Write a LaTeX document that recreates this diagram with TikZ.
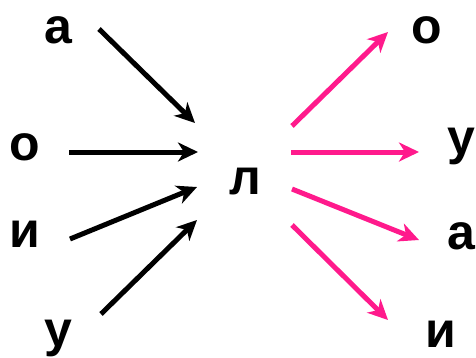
\documentclass[tikz,border=0pt]{standalone}
\usepackage{fontspec}
\setmainfont{Liberation Sans}
\usetikzlibrary{arrows.meta}
\definecolor{pinkc}{HTML}{FF1A8C}
\tikzset{
  letter/.style={inner sep=0pt, anchor=base, font=\fontsize{50}{60}\selectfont\bfseries},
  blk/.style={line width=5pt, draw=black, -{Stealth[length=20pt,width=19pt,inset=6pt]}},
  pnk/.style={line width=5pt, draw=pinkc, -{Stealth[length=20pt,width=19pt,inset=6pt]}}
}
\begin{document}
\begin{tikzpicture}[x=1pt,y=-1pt]
\useasboundingbox (0,0) rectangle (476,357);
% letters
\node[letter] (la) at (58,43) {а};
\node[letter] (lo) at (25,160) {о};
\node[letter] (li) at (25,247) {и};
\node[letter] (lu) at (58,346) {у};
\node[letter] (l) at (245,194) {л};
\node[letter] (ro) at (427,43) {о};
\node[letter] (ru) at (461,154) {у};
\node[letter] (ra) at (461,249) {а};
\node[letter] (ri) at (441,347) {и};
% connector coordinates
\coordinate (a1) at (99,29);   \coordinate (a2) at (195,123);
\coordinate (o1) at (69,152);  \coordinate (o2) at (198,152);
\coordinate (i1) at (70,239);  \coordinate (i2) at (197,187);
\coordinate (u1) at (101,314); \coordinate (u2) at (197,220);
\coordinate (p1s) at (292,126); \coordinate (p1e) at (388,32);
\coordinate (p2s) at (291,152); \coordinate (p2e) at (419,152);
\coordinate (p3s) at (292,189); \coordinate (p3e) at (419,240);
\coordinate (p4s) at (292,225); \coordinate (p4e) at (388,320);
\draw[blk] (a1) -- (a2);
\draw[blk] (o1) -- (o2);
\draw[blk] (i1) -- (i2);
\draw[blk] (u1) -- (u2);
\draw[pnk] (p1s) -- (p1e);
\draw[pnk] (p2s) -- (p2e);
\draw[pnk] (p3s) -- (p3e);
\draw[pnk] (p4s) -- (p4e);
\end{tikzpicture}
\end{document}
